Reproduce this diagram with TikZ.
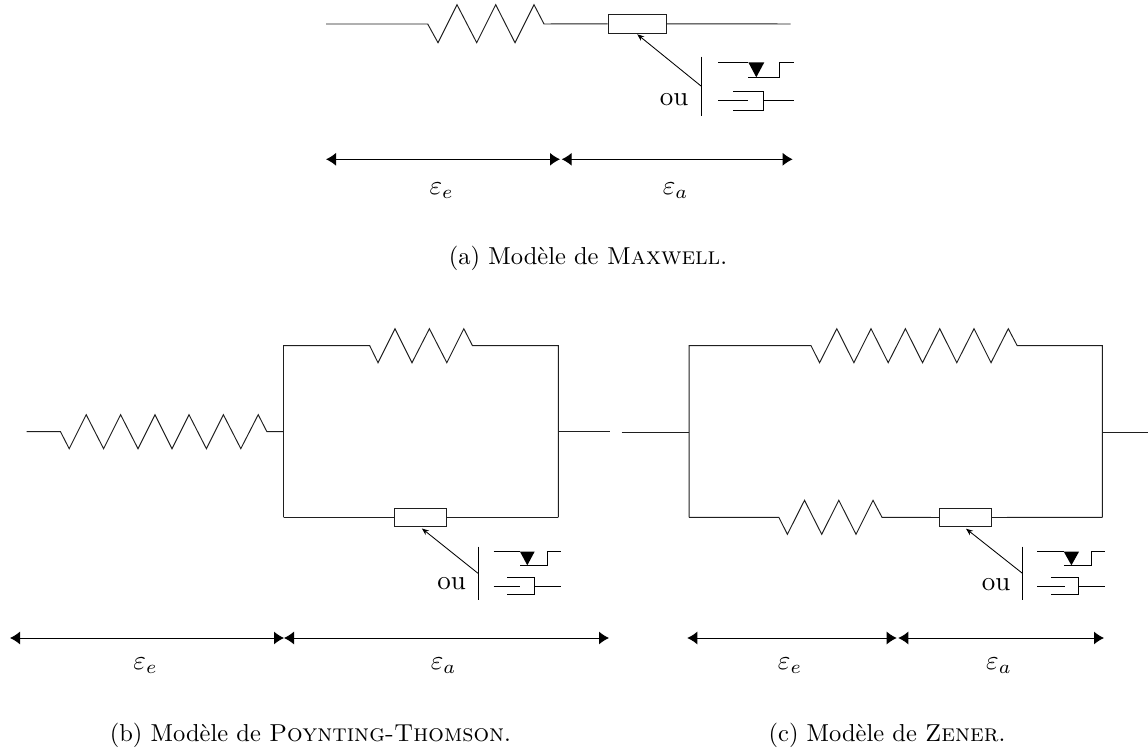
\documentclass[tikz,border=0pt]{standalone}
\usetikzlibrary{arrows.meta}
\tikzset{
  wire/.style={line width=0.95pt,line join=miter,color=black!88},
  thinwire/.style={line width=0.85pt,color=black},
  boxn/.style={draw=black!88,line width=0.95pt,rectangle,inner sep=0pt,fill=white},
  dimline/.style={line width=1pt,{Latex[length=10pt,width=13pt]}-{Latex[length=10pt,width=13pt]}},
  feed/.style={line width=0.85pt,-{Stealth[length=7pt,width=5.5pt]}},
  lbl/.style={inner sep=0pt,scale=2.7},
  captext/.style={inner sep=0pt,scale=2.45}
}
% slider/damper key: #1 prefix, #2 x start, #3 tri left, #4 tri tip, #5 tri right, #6 step x, #7 x end, #8 y top, #9 y step
\newcommand{\sliderkey}[9]{
  \coordinate (#1SA) at (#2,#8);
  \coordinate (#1SB) at (#7,#8);
  \draw[thinwire] (#1SA) -- (#3,#8);
  \fill (#3,#8) -- (#5,#8) -- (#4,#9) -- cycle;
  \draw[thinwire] (#3,#9) -- (#6,#9) -- (#6,#8) -- (#1SB);
}
% #1 prefix, #2 x start, #3 cyl left, #4 rod end, #5 cyl right, #6 x end, #7 y rod, #8 y top, #9 y bottom
\newcommand{\damperkey}[9]{
  \coordinate (#1DA) at (#2,#7);
  \coordinate (#1DB) at (#6,#7);
  \draw[thinwire] (#1DA) -- (#4,#7);
  \draw[thinwire] (#3,#8) -- (#5,#8) -- (#5,#9) -- (#3,#9);
  \draw[thinwire] (#5,#7) -- (#1DB);
}
\begin{document}
\begin{tikzpicture}[x=1pt,y=-1pt]
\useasboundingbox (0,0) rectangle (1148,751);
% ---------- (a)
\coordinate (aL) at (326,24);
\coordinate (aR) at (790.7,24);
\node[boxn,minimum width=58pt,minimum height=19pt] (aBox) at (637.2,23.8) {};
\draw[wire] (aL) -- (427.7,24) -- (438,42.7) -- (457,4.7) -- (476.7,42.7) -- (495.7,4.7) -- (515,42.7) -- (534,4.7) -- (544,24) -- (aBox.west);
\draw[wire] (aBox.east) -- (aR);
\coordinate (aBarT) at (701,56.7);
\coordinate (aBarB) at (701,116.3);
\coordinate (aBarM) at (701,86);
\draw[thinwire] (aBarT) -- (aBarB);
\draw[feed] (aBarM) -- ([yshift=-0.5pt]aBox.south);
\node[lbl] (aOu) at (674,100) {ou};
\sliderkey{a}{718.3}{748.3}{756.3}{764.3}{779}{793.7}{62.3}{77.3}
\damperkey{a}{718.3}{733.3}{748.3}{763.3}{793.7}{100.7}{91.3}{110}
\coordinate (aD1) at (326,159.3);
\coordinate (aD2) at (560,159.3);
\coordinate (aD3) at (561.7,159.3);
\coordinate (aD4) at (792.7,159.3);
\draw[dimline] (aD1) -- (aD2);
\draw[dimline] (aD3) -- (aD4);
\node[lbl] (aEe) at (441.7,191) {$\varepsilon_e$};
\node[lbl] (aEa) at (675.7,191) {$\varepsilon_a$};
\node[captext] (aCap) at (588,258) {(a) Modèle de \textsc{Maxwell}.};
% ---------- (b)
\coordinate (bL) at (26.5,431.7);
\coordinate (bTL) at (283.5,345.7);
\coordinate (bTR) at (558.3,345.7);
\coordinate (bBL) at (283.5,517.3);
\coordinate (bBR) at (558.3,517.3);
\coordinate (bML) at (283.5,431.7);
\coordinate (bMR) at (558.3,431.7);
\coordinate (bR) at (610,431.7);
\draw[wire] (bL) -- (60.5,431.7) -- (69.2,448.7) -- (86.2,414.7) -- (103.6,448.7) -- (120.6,414.7) -- (138,448.7) -- (155,414.7) -- (172,448.7) -- (189,414.7) -- (206.4,448.7) -- (223.4,414.7) -- (240.8,448.7) -- (258.2,414.7) -- (266.9,431.7) -- (bML);
\draw[wire] (bMR) -- (bR);
\draw[wire] (bBL) -- (bTL) -- (369.7,345.7) -- (378,362.7) -- (395,328.7) -- (412,362.7) -- (429.4,328.7) -- (446.8,362.7) -- (463.8,328.7) -- (472.5,345.7) -- (bTR) -- (bBR);
\node[boxn,minimum width=52.2pt,minimum height=18pt] (bBox) at (420.7,517.3) {};
\draw[wire] (bBL) -- (bBox.west);
\draw[wire] (bBox.east) -- (bBR);
\coordinate (bBarT) at (478,546.7);
\coordinate (bBarB) at (478,600);
\coordinate (bBarM) at (478,573.3);
\draw[thinwire] (bBarT) -- (bBarB);
\draw[feed] (bBarM) -- ([xshift=1.2pt,yshift=-1.7pt]bBox.south);
\node[lbl] (bOu) at (451.6,584) {ou};
\sliderkey{b}{493.5}{520}{527.3}{534.6}{547.6}{560.7}{551.7}{565.3}
\damperkey{b}{493.5}{507}{520}{534.2}{560.7}{586.3}{577.7}{594.3}
\coordinate (bD1) at (10,638);
\coordinate (bD2) at (284,638);
\coordinate (bD3) at (284,638);
\coordinate (bD4) at (609,638);
\draw[dimline] (bD1) -- (bD2);
\draw[dimline] (bD3) -- (bD4);
\node[lbl] (bEe) at (145.5,666) {$\varepsilon_e$};
\node[lbl] (bEa) at (443.7,666) {$\varepsilon_a$};
\node[captext] (bCap) at (310.4,735) {(b) Modèle de \textsc{Poynting-Thomson}.};
% ---------- (c)
\coordinate (cL) at (621.7,432.3);
\coordinate (cTL) at (689.2,345.7);
\coordinate (cTR) at (1102.3,345.7);
\coordinate (cBL) at (689.2,517.3);
\coordinate (cBR) at (1102.3,517.3);
\coordinate (cML) at (689.2,432.3);
\coordinate (cMR) at (1102.3,432.3);
\coordinate (cR) at (1148,432.3);
\draw[wire] (cL) -- (cML);
\draw[wire] (cMR) -- (cR);
\draw[wire] (cBL) -- (cTL) -- (811,345.7) -- (819.6,362.7) -- (836.8,328.7) -- (853.9,362.7) -- (871,328.7) -- (888.2,362.7) -- (905.4,328.7) -- (922.5,362.7) -- (939.7,328.7) -- (956.8,362.7) -- (974,328.7) -- (991,362.7) -- (1008.3,328.7) -- (1017.2,345.7) -- (cTR) -- (cBR);
\node[boxn,minimum width=51.7pt,minimum height=18pt] (cBox) at (965.2,517.5) {};
\draw[wire] (cBL) -- (778.8,517.3) -- (787.4,534.3) -- (804.5,500.3) -- (821.7,534.3) -- (838.8,500.3) -- (856,534.3) -- (873,500.3) -- (882,517.3) -- (cBox.west);
\draw[wire] (cBox.east) -- (cBR);
\coordinate (cBarT) at (1022.4,546.7);
\coordinate (cBarB) at (1022.4,600);
\coordinate (cBarM) at (1022.4,573.3);
\draw[thinwire] (cBarT) -- (cBarB);
\draw[feed] (cBarM) -- ([xshift=0.8pt,yshift=-1.7pt]cBox.south);
\node[lbl] (cOu) at (996,585) {ou};
\sliderkey{c}{1037.4}{1063.8}{1071.4}{1079}{1091.3}{1105}{551.7}{565.3}
\damperkey{c}{1037.4}{1050.8}{1064.5}{1078.6}{1105}{586.3}{577.7}{594.3}
\coordinate (cD1) at (687.3,638);
\coordinate (cD2) at (896.7,638);
\coordinate (cD3) at (898.3,638);
\coordinate (cD4) at (1104,638);
\draw[dimline] (cD1) -- (cD2);
\draw[dimline] (cD3) -- (cD4);
\node[lbl] (cEe) at (790,666) {$\varepsilon_e$};
\node[lbl] (cEa) at (999,666) {$\varepsilon_a$};
\node[captext] (cCap) at (887,735) {(c) Modèle de \textsc{Zener}.};
\end{tikzpicture}
\end{document}
